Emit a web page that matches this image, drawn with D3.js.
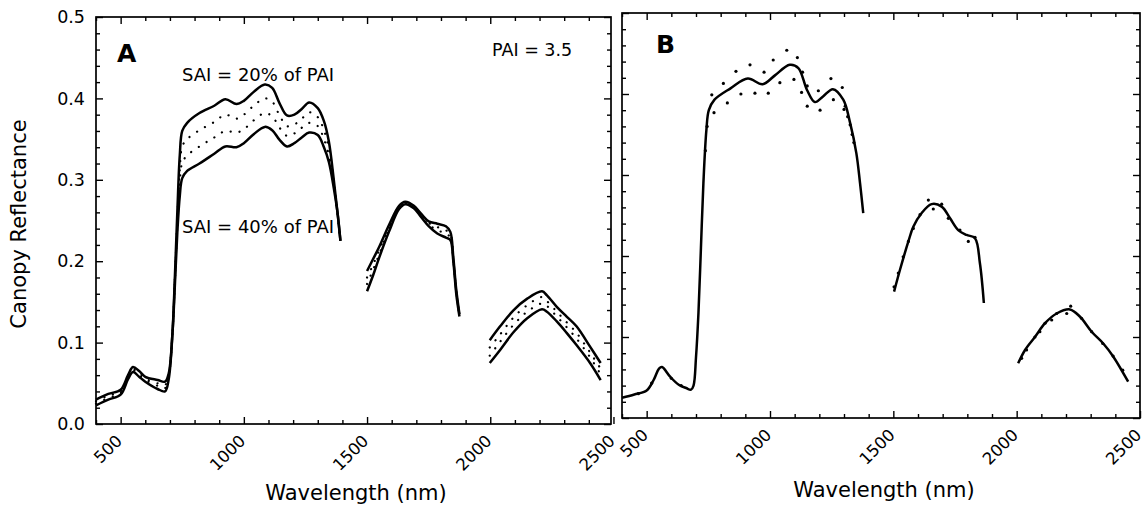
<!DOCTYPE html>
<html>
<head>
<meta charset="utf-8">
<script src="https://cdn.jsdelivr.net/npm/d3@7"></script>
<style>
  body { margin: 0; background: #fff; }
  svg text { font-family: "DejaVu Sans", "Liberation Sans", sans-serif; fill: #000; }
  .frame { fill: none; stroke: #000; stroke-width: 1.7; }
  .tick line { stroke: #000; stroke-width: 1.4; }
  .curve { fill: none; stroke: #000; stroke-width: 2.5; stroke-linejoin: round; }
  .mid { fill: none; stroke: #000; stroke-width: 2.2; stroke-linecap: round; stroke-dasharray: 0.1 9; }
</style>
</head>
<body>
<div class="chart-container"></div>
<script>
/* Data
   ========================================================================== */

// Ticks
var xMajor = [500, 1000, 1500, 2000, 2500];
var yMajor = [0.0, 0.1, 0.2, 0.3, 0.4, 0.5];
var yLabels = ["0.0", "0.1", "0.2", "0.3", "0.4", "0.5"];

// Panel A, segment 1 (VIS - NIR)
var aNm1    = [400, 450, 500, 530, 550, 575, 600, 650, 680, 695, 710, 720, 730, 740, 750, 770, 820, 880, 925, 970, 1000, 1040, 1085, 1115, 1145, 1175, 1205, 1235, 1265, 1300, 1325, 1345, 1365, 1380, 1392];
var aSai20_1 = [.023, .030, .036, .055, .064, .058, .052, .043, .040, .055, .11, .18, .26, .33, .360, .370, .382, .391, .399, .393, .397, .408, .417, .413, .394, .379, .380, .387, .395, .388, .372, .347, .30, .26, .225];
var aMid1_1  = [.025, .032, .038, .057, .066, .060, .054, .047, .044, .058, .11, .177, .252, .313, .341, .350, .361, .371, .380, .375, .380, .391, .400, .396, .379, .366, .368, .375, .383, .377, .361, .339, .297, .26, .225];
var aMid2_1  = [.028, .035, .040, .058, .068, .063, .056, .050, .048, .060, .11, .173, .243, .297, .321, .330, .341, .352, .360, .358, .362, .373, .382, .378, .364, .354, .357, .364, .370, .366, .350, .330, .293, .26, .225];
var aSai40_1 = [.030, .037, .042, .060, .070, .065, .058, .054, .052, .062, .11, .17, .235, .28, .302, .311, .320, .332, .341, .340, .345, .356, .365, .361, .349, .341, .345, .352, .358, .355, .340, .322, .29, .26, .225];

// Panel A, segment 2 (SWIR 1)
var aNm2    = [1500, 1525, 1550, 1590, 1630, 1655, 1690, 1720, 1750, 1785, 1820, 1838, 1850, 1862, 1875];
var aSai20_2 = [.188, .203, .218, .245, .268, .273, .268, .258, .249, .246, .243, .236, .205, .165, .135];
var aMid1_2  = [.180, .196, .214, .242, .267, .272, .267, .257, .247, .242, .238, .233, .203, .163, .134];
var aMid2_2  = [.172, .190, .209, .240, .265, .271, .266, .255, .245, .238, .234, .229, .202, .162, .133];
var aSai40_2 = [.163, .183, .205, .237, .264, .270, .265, .254, .243, .234, .229, .226, .200, .160, .132];

// Panel A, segment 3 (SWIR 2)
var aNm3    = [1998, 2040, 2095, 2150, 2210, 2230, 2270, 2310, 2350, 2405, 2448];
var aSai20_3 = [.103, .120, .140, .154, .163, .158, .144, .132, .120, .095, .075];
var aMid1_3  = [.094, .110, .131, .146, .156, .151, .138, .125, .112, .088, .068];
var aMid2_3  = [.084, .101, .122, .138, .148, .145, .132, .119, .105, .082, .061];
var aSai40_3 = [.075, .091, .113, .130, .141, .138, .126, .112, .097, .075, .054];

// Panel B, modelled curve
var bNm1  = [400, 450, 500, 530, 550, 562, 595, 630, 660, 680, 690, 700, 710, 720, 730, 742, 752, 775, 840, 910, 970, 1020, 1080, 1115, 1150, 1182, 1215, 1255, 1297, 1325, 1350, 1365, 1378];
var bRef1 = [.025, .029, .034, .048, .061, .063, .051, .041, .037, .035, .040, .075, .13, .21, .29, .355, .380, .393, .407, .419, .412, .423, .436, .432, .405, .390, .397, .406, .393, .364, .327, .29, .253];
var bNm2  = [1503, 1527, 1561, 1581, 1615, 1655, 1696, 1730, 1763, 1797, 1831, 1851, 1867];
var bRef2 = [.156, .183, .218, .236, .253, .264, .261, .2465, .232, .226, .222, .191, .142];
var bNm3  = [2006, 2034, 2074, 2115, 2162, 2216, 2257, 2304, 2351, 2392, 2452];
var bRef3 = [.0675, .084, .100, .117, .129, .134, .125, .1065, .092, .0757, .0448];

// Panel B, measured points
var bDotNm  = [466, 520, 600, 640, 738, 745, 764, 811, 862, 919, 976, 1013, 1068, 1111, 1132, 1151, 1196, 1247, 1293,
               773, 827, 882, 939, 993, 1040, 1097, 1128, 1151, 1203, 1257, 1300, 1305, 1315, 1325, 1333, 1340,
               1503, 1520, 1540, 1561, 1581, 1608, 1642, 1662, 1696, 1723, 1770, 1804, 1831,
               2020, 2040, 2074, 2094, 2115, 2142, 2162, 2203, 2219, 2263, 2304, 2349, 2391, 2430];
var bDotVal = [.030, .043, .049, .040, .33, .36, .399, .413, .428, .436, .427, .442, .454, .445, .427, .410, .404, .419, .408,
               .377, .389, .400, .401, .401, .414, .418, .402, .385, .380, .393, .381, .385, .372, .362, .35, .34,
               .162, .179, .199, .218, .234, .251, .269, .258, .264, .2465, .232, .218, .223,
               .0737, .084, .100, .1066, .117, .121, .129, .129, .138, .123, .1066, .092, .0765, .059];

/* Layout
   ========================================================================== */

var W = 1146, H = 510;

var svg = d3.select('.chart-container').append("svg")
    .attr("width", W)
    .attr("height", H);

function zip(nm, val) {
    return nm.map(function(d, i) { return [d, val[i]]; });
}

// Draw one panel frame with ticks on all four sides, all pointing inward
function drawPanel(p, showYLabels) {
    var x = d3.scaleLinear().domain(p.xDomain).range([p.left, p.right]);
    var y = d3.scaleLinear().domain([0, 0.5]).range([p.bottom, p.top]);
    var xMinor = d3.range(400, 2501, 100).filter(function(d) { return xMajor.indexOf(d) < 0 && d <= p.xDomain[1]; });
    var yMinor = d3.range(0.02, 0.5, 0.02).filter(function(d) { return Math.abs(d * 10 - Math.round(d * 10)) > 1e-6; });

    var g = svg.append("g");

    // bottom
    var bottom = g.append("g")
        .attr("transform", "translate(0," + p.bottom + ")")
        .call(d3.axisBottom(x).tickValues(xMajor.filter(function(d) { return d <= p.xDomain[1] + 15; }))
            .tickSizeInner(-7).tickSizeOuter(0).tickPadding(0).tickFormat(d3.format("d")));
    bottom.selectAll("text")
        .attr("x", 0).attr("y", 0).attr("dy", 0)
        .attr("transform", function() { return "translate(2,18) rotate(-45)"; })
        .style("text-anchor", "end")
        .style("font-size", "16.5px");
    g.append("g")
        .attr("transform", "translate(0," + p.bottom + ")")
        .call(d3.axisBottom(x).tickValues(xMinor).tickSizeInner(-4).tickSizeOuter(0).tickFormat(""));

    // top
    g.append("g")
        .attr("transform", "translate(0," + p.top + ")")
        .call(d3.axisTop(x).tickValues(xMajor.filter(function(d) { return d < p.xDomain[1] - 5; }))
            .tickSizeInner(-7).tickSizeOuter(0).tickFormat(""));
    g.append("g")
        .attr("transform", "translate(0," + p.top + ")")
        .call(d3.axisTop(x).tickValues(xMinor).tickSizeInner(-4).tickSizeOuter(0).tickFormat(""));

    // left
    var left = g.append("g")
        .attr("transform", "translate(" + p.left + ",0)")
        .call(d3.axisLeft(y).tickValues(yMajor).tickSizeInner(-7).tickSizeOuter(0).tickPadding(11)
            .tickFormat(function(d, i) { return showYLabels ? yLabels[i] : ""; }));
    left.selectAll("text").style("font-size", "17.5px");
    g.append("g")
        .attr("transform", "translate(" + p.left + ",0)")
        .call(d3.axisLeft(y).tickValues(yMinor).tickSizeInner(-4).tickSizeOuter(0).tickFormat(""));

    // right
    g.append("g")
        .attr("transform", "translate(" + p.right + ",0)")
        .call(d3.axisRight(y).tickValues(yMajor).tickSizeInner(-7).tickSizeOuter(0).tickFormat(""));
    g.append("g")
        .attr("transform", "translate(" + p.right + ",0)")
        .call(d3.axisRight(y).tickValues(yMinor).tickSizeInner(-4).tickSizeOuter(0).tickFormat(""));

    g.selectAll(".domain").remove();

    g.append("rect")
        .attr("class", "frame")
        .attr("x", p.left).attr("y", p.top)
        .attr("width", p.right - p.left).attr("height", p.bottom - p.top);

    return { g: g, x: x, y: y };
}

var panelA = { left: 96, right: 611, top: 17, bottom: 424, xDomain: [400, 2490] };
var panelB = { left: 622, right: 1140, top: 13, bottom: 418, xDomain: [400, 2500] };

var A = drawPanel(panelA, true);
var B = drawPanel(panelB, false);

/* Panel A curves
   ========================================================================== */

var lineA = d3.line()
    .x(function(d) { return A.x(d[0]); })
    .y(function(d) { return A.y(d[1]); })
    .curve(d3.curveCatmullRom.alpha(0.5));

var aSolid = [zip(aNm1, aSai20_1), zip(aNm1, aSai40_1),
              zip(aNm2, aSai20_2), zip(aNm2, aSai40_2),
              zip(aNm3, aSai20_3), zip(aNm3, aSai40_3)];
var aDotted = [zip(aNm1, aMid1_1), zip(aNm1, aMid2_1),
               zip(aNm2, aMid1_2), zip(aNm2, aMid2_2),
               zip(aNm3, aMid1_3), zip(aNm3, aMid2_3)];

A.g.selectAll(".mid")
    .data(aDotted)
    .enter().append("path")
    .attr("class", "mid")
    .attr("d", lineA);

A.g.selectAll(".curve")
    .data(aSolid)
    .enter().append("path")
    .attr("class", "curve")
    .attr("d", lineA);

/* Panel B curve and points
   ========================================================================== */

var lineB = d3.line()
    .x(function(d) { return B.x(d[0]); })
    .y(function(d) { return B.y(d[1]); })
    .curve(d3.curveCatmullRom.alpha(0.5));

B.g.selectAll(".curve")
    .data([zip(bNm1, bRef1), zip(bNm2, bRef2), zip(bNm3, bRef3)])
    .enter().append("path")
    .attr("class", "curve")
    .attr("d", lineB);

B.g.selectAll(".pt")
    .data(zip(bDotNm, bDotVal))
    .enter().append("circle")
    .attr("class", "pt")
    .attr("cx", function(d) { return B.x(d[0]); })
    .attr("cy", function(d) { return B.y(d[1]); })
    .attr("r", 1.6)
    .attr("fill", "#000");

/* Text
   ========================================================================== */

svg.append("text")
    .attr("transform", "translate(26,224) rotate(-90)")
    .attr("text-anchor", "middle")
    .style("font-size", "21px")
    .text("Canopy Reflectance");

svg.append("text")
    .attr("x", 356).attr("y", 500)
    .attr("text-anchor", "middle")
    .style("font-size", "21px")
    .text("Wavelength (nm)");

svg.append("text")
    .attr("x", 884).attr("y", 497)
    .attr("text-anchor", "middle")
    .style("font-size", "21px")
    .text("Wavelength (nm)");

svg.append("text")
    .attr("x", 117).attr("y", 62)
    .style("font-size", "25px").style("font-weight", "bold")
    .text("A");

svg.append("text")
    .attr("x", 656).attr("y", 53)
    .style("font-size", "25px").style("font-weight", "bold")
    .text("B");

svg.append("text")
    .attr("x", 182).attr("y", 81)
    .style("font-size", "18px")
    .text("SAI = 20% of PAI");

svg.append("text")
    .attr("x", 182).attr("y", 233)
    .style("font-size", "18px")
    .text("SAI = 40% of PAI");

svg.append("text")
    .attr("x", 492).attr("y", 56)
    .style("font-size", "17.5px")
    .text("PAI = 3.5");
</script>
</body>
</html>
